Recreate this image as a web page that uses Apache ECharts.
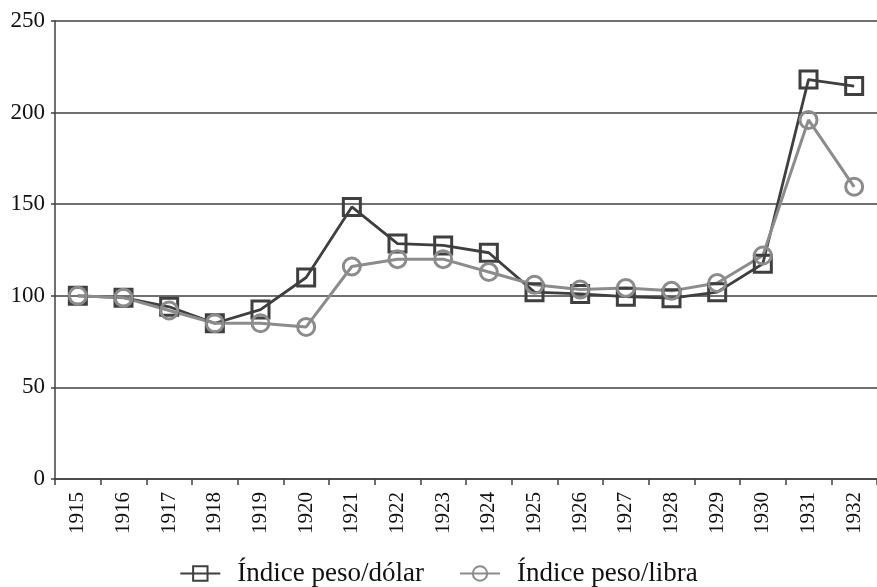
<!DOCTYPE html>
<html><head><meta charset="utf-8">
<script src="https://cdn.jsdelivr.net/npm/echarts@6/dist/echarts.min.js"></script>
<style>html,body{margin:0;padding:0;background:#fff}#c{width:877px;height:587px}</style>
</head><body><div id="c"></div>
<script>
const years = ['1915','1916','1917','1918','1919','1920','1921','1922','1923','1924','1925','1926','1927','1928','1929','1930','1931','1932'];
const dolar = [100, 99, 94, 85, 92.5, 110, 148.5, 128.5, 127.5, 123.5, 102, 101, 99.5, 98.7, 102, 117.5, 218, 214.5];
const libra = [100, 99, 92, 85, 85, 83, 116, 120, 120, 113, 106, 103.4, 104.3, 102.7, 107, 122, 196, 159.5];
const yTicks = {min: 0, max: 250, interval: 50};
const names = ['Índice peso/dólar', 'Índice peso/libra'];
const font = 'Liberation Serif';
const chart = echarts.init(document.getElementById('c'));
chart.setOption({
  animation: false,
  grid: {left: 55, right: 0, top: 21, bottom: 108, containLabel: false},
  legend: {
    bottom: -5, left: 'center', itemWidth: 40, itemHeight: 18, itemGap: 35,
    textStyle: {fontFamily: font, fontSize: 27, color: '#111', padding: [0, 0, 0, 12]},
    data: names
  },
  xAxis: {
    type: 'category', data: years, boundaryGap: true,
    axisLine: {lineStyle: {color: '#404040', width: 1.5}},
    axisTick: {show: true, length: 6, lineStyle: {color: '#404040', width: 1.5}},
    axisLabel: {rotate: 90, fontFamily: font, fontSize: 21, color: '#111', margin: 13}
  },
  yAxis: {
    type: 'value', min: yTicks.min, max: yTicks.max, interval: yTicks.interval,
    axisLine: {show: true, lineStyle: {color: '#404040', width: 1.5}},
    axisTick: {show: true, length: 4, lineStyle: {color: '#404040', width: 1.5}},
    splitLine: {lineStyle: {color: '#404040', width: 1.5}},
    axisLabel: {fontFamily: font, fontSize: 23, color: '#111', margin: 10}
  },
  series: [
    {name: names[0], type: 'line', data: dolar, symbol: 'rect', symbolSize: 17,
     lineStyle: {color: '#3f3f3f', width: 2.8},
     itemStyle: {color: 'rgba(255,255,255,0)', borderColor: '#3f3f3f', borderWidth: 3}},
    {name: names[1], type: 'line', data: libra, symbol: 'circle', symbolSize: 17,
     lineStyle: {color: '#8c8c8c', width: 3},
     itemStyle: {color: 'rgba(255,255,255,0)', borderColor: '#8c8c8c', borderWidth: 3}}
  ]
});
</script></body></html>
